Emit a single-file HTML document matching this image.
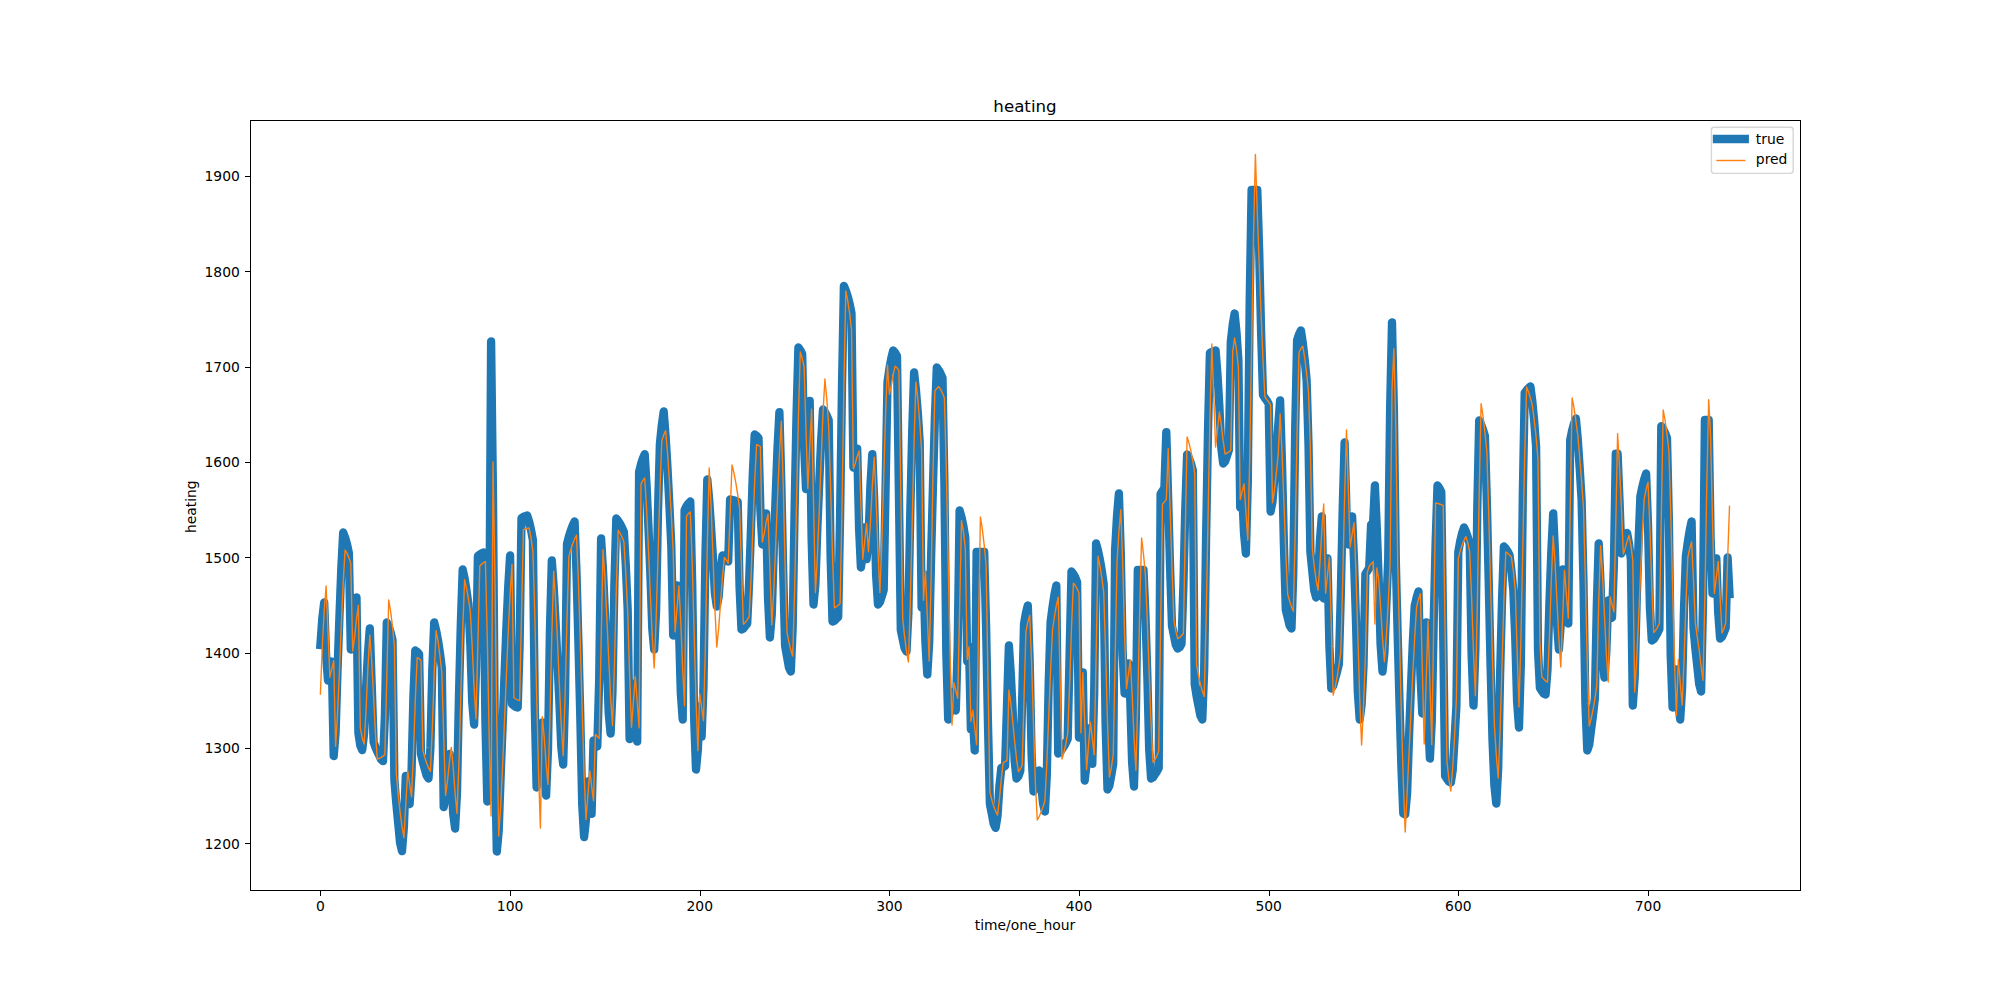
<!DOCTYPE html>
<html><head><meta charset="utf-8"><title>heating</title>
<style>html,body{margin:0;padding:0;background:#fff;overflow:hidden}svg{display:block}</style>
</head><body>
<svg width="2000" height="1000" viewBox="0 0 2000 1000">
<rect x="0" y="0" width="2000" height="1000" fill="#ffffff"/>
<defs><clipPath id="ax"><rect x="250" y="120" width="1550" height="770"/></clipPath></defs>
<g clip-path="url(#ax)" fill="none" stroke-linejoin="round" stroke-linecap="square">
<path d="M320.4 645.0 L322.3 618.6 L324.2 602.5 L326.1 655.1 L328.0 680.5 L329.9 674.3 L331.8 661.5 L333.7 756.1 L335.6 732.6 L337.5 671.0 L339.4 617.6 L341.3 568.6 L343.2 532.5 L345.1 537.4 L347.0 544.1 L348.9 553.0 L350.8 649.5 L352.7 639.2 L354.6 613.3 L356.5 597.5 L358.4 733.0 L360.3 745.7 L362.2 750.1 L364.1 733.3 L366.0 689.3 L367.9 654.3 L369.8 628.5 L371.7 684.4 L373.6 742.0 L375.4 747.2 L377.3 751.6 L379.2 755.4 L381.1 759.4 L383.0 761.1 L384.9 716.1 L386.8 622.5 L388.7 626.6 L390.6 632.3 L392.5 640.0 L394.4 780.0 L396.3 803.5 L398.2 823.0 L400.1 843.1 L402.0 851.1 L403.9 826.7 L405.8 775.9 L407.7 794.9 L409.6 804.1 L411.5 773.8 L413.4 697.1 L415.3 650.5 L417.2 651.9 L419.1 654.0 L421.0 754.0 L422.9 762.4 L424.8 769.1 L426.7 775.8 L428.5 778.5 L430.4 747.7 L432.3 669.9 L434.2 622.5 L436.1 630.3 L438.0 640.2 L439.9 652.6 L441.8 668.0 L443.7 807.1 L445.6 796.6 L447.5 770.1 L449.4 753.9 L451.3 776.6 L453.2 813.8 L455.1 828.5 L457.0 792.7 L458.9 699.0 L460.8 624.5 L462.7 569.5 L464.6 578.4 L466.5 590.3 L468.4 604.0 L470.3 643.8 L472.2 701.7 L474.1 724.5 L476.0 669.9 L477.9 556.0 L479.8 554.5 L481.7 553.3 L483.5 552.5 L485.4 720.6 L487.3 801.5 L489.2 652.0 L491.1 341.5 L493.0 496.4 L494.9 750.8 L496.8 851.5 L498.7 830.7 L500.6 777.3 L502.5 728.8 L504.4 678.2 L506.3 629.7 L508.2 587.4 L510.1 555.5 L512.0 704.0 L513.9 705.6 L515.8 707.0 L517.7 707.5 L519.6 646.0 L521.5 518.0 L523.4 516.9 L525.3 516.1 L527.2 515.5 L529.1 521.5 L531.0 529.7 L532.9 540.0 L534.8 708.1 L536.6 787.5 L538.5 774.7 L540.4 742.2 L542.3 722.5 L544.2 771.8 L546.1 795.5 L548.0 749.1 L549.9 631.9 L551.8 560.5 L553.7 586.9 L555.6 622.5 L557.5 662.5 L559.4 702.5 L561.3 747.3 L563.2 764.5 L565.1 693.6 L567.0 544.0 L568.9 536.5 L570.8 530.4 L572.7 525.4 L574.6 521.5 L576.5 572.5 L578.4 641.7 L580.3 716.9 L582.2 803.9 L584.1 837.1 L586.0 819.0 L587.9 781.5 L589.8 803.4 L591.6 813.9 L593.5 740.5 L595.4 744.5 L597.3 746.5 L599.2 678.9 L601.1 538.5 L603.0 570.0 L604.9 612.8 L606.8 659.2 L608.7 713.0 L610.6 733.5 L612.5 691.1 L614.4 583.8 L616.3 518.5 L618.2 520.9 L620.1 523.9 L622.0 527.6 L623.9 532.0 L625.8 565.3 L627.7 610.0 L629.6 739.1 L631.5 721.2 L633.4 683.9 L635.3 722.8 L637.2 741.5 L639.1 472.0 L641.0 464.1 L642.9 458.3 L644.7 454.1 L646.6 485.7 L648.5 528.5 L650.4 575.1 L652.3 629.0 L654.2 649.5 L656.1 610.4 L658.0 510.9 L659.9 444.0 L661.8 425.2 L663.7 411.5 L665.6 436.0 L667.5 468.0 L669.4 505.3 L671.3 546.0 L673.2 635.5 L675.1 619.2 L677.0 585.5 L678.9 626.2 L680.8 693.0 L682.7 719.5 L684.6 510.0 L686.5 506.2 L688.4 503.5 L690.3 501.5 L692.2 582.9 L694.1 716.6 L696.0 769.5 L697.9 749.0 L699.7 706.5 L701.6 736.5 L703.5 685.8 L705.4 557.6 L707.3 479.5 L709.2 500.0 L711.1 527.9 L713.0 558.1 L714.9 593.2 L716.8 606.5 L718.7 596.4 L720.6 571.0 L722.5 555.5 L724.4 557.3 L726.3 560.3 L728.2 561.5 L730.1 499.5 L732.0 499.9 L733.9 500.3 L735.8 500.9 L737.7 501.6 L739.6 588.0 L741.5 629.5 L743.4 628.5 L745.3 626.0 L747.2 623.6 L749.1 582.6 L751.0 528.3 L752.8 474.4 L754.7 434.5 L756.6 435.9 L758.5 438.0 L760.4 510.1 L762.3 544.5 L764.2 534.4 L766.1 513.5 L768.0 597.2 L769.9 637.5 L771.8 613.8 L773.7 551.7 L775.6 497.9 L777.5 448.5 L779.4 412.1 L781.3 481.8 L783.2 572.2 L785.1 646.0 L787.0 656.5 L788.9 667.4 L790.8 671.5 L792.7 626.7 L794.6 509.5 L796.5 416.3 L798.4 347.5 L800.3 350.1 L802.2 354.0 L804.1 445.6 L806.0 489.1 L807.8 460.4 L809.7 400.9 L811.6 538.3 L813.5 604.5 L815.4 584.0 L817.3 530.2 L819.2 483.8 L821.1 441.0 L823.0 409.5 L824.9 412.0 L826.8 415.5 L828.7 420.0 L830.6 556.5 L832.5 621.5 L834.4 620.8 L836.3 618.9 L838.2 617.0 L840.1 515.9 L842.0 386.2 L843.9 285.9 L845.8 290.5 L847.7 296.3 L849.6 303.7 L851.5 313.0 L853.4 467.5 L855.3 461.3 L857.2 448.5 L859.1 528.8 L860.9 567.5 L862.8 554.5 L864.7 527.5 L866.6 559.1 L868.5 538.4 L870.4 486.0 L872.3 454.1 L874.2 499.8 L876.1 574.8 L878.0 604.5 L879.9 602.2 L881.8 596.2 L883.7 590.0 L885.6 487.0 L887.5 382.0 L889.4 368.8 L891.3 358.3 L893.2 350.5 L895.1 352.7 L897.0 356.0 L898.9 492.1 L900.8 630.0 L902.7 639.1 L904.6 648.1 L906.5 651.5 L908.4 613.0 L910.3 512.0 L912.2 431.8 L914.1 372.5 L915.9 389.5 L917.8 412.6 L919.7 442.0 L921.6 607.5 L923.5 574.5 L925.4 642.0 L927.3 674.5 L929.2 642.3 L931.1 557.6 L933.0 484.4 L934.9 417.1 L936.8 367.5 L938.7 370.1 L940.6 373.6 L942.5 378.0 L944.4 482.9 L946.3 652.5 L948.2 719.5 L950.1 710.7 L952.0 692.5 L953.9 704.6 L955.8 710.5 L957.7 645.5 L959.6 510.5 L961.5 517.1 L963.4 526.1 L965.3 538.0 L967.2 661.5 L969.0 646.5 L970.9 729.5 L972.8 714.5 L974.7 750.5 L976.6 552.0 L978.5 552.0 L980.4 552.0 L982.3 552.0 L984.2 552.0 L986.1 627.2 L988.0 724.9 L989.9 804.0 L991.8 813.8 L993.7 824.0 L995.6 827.9 L997.5 816.2 L999.4 786.5 L1001.3 768.0 L1003.2 767.0 L1005.1 766.0 L1007.0 705.6 L1008.9 645.5 L1010.8 673.8 L1012.7 712.0 L1014.6 760.1 L1016.5 778.5 L1018.4 776.5 L1020.3 771.0 L1022.2 698.4 L1024.0 624.0 L1025.9 613.1 L1027.8 605.5 L1029.7 662.0 L1031.6 754.8 L1033.5 791.5 L1035.4 787.4 L1037.3 776.9 L1039.2 770.5 L1041.1 783.0 L1043.0 803.4 L1044.9 811.5 L1046.8 775.3 L1048.7 683.2 L1050.6 622.0 L1052.5 607.3 L1054.4 594.8 L1056.3 585.5 L1058.2 753.5 L1060.1 752.2 L1062.0 749.2 L1063.9 746.4 L1065.8 743.0 L1067.7 739.0 L1069.6 654.6 L1071.5 571.5 L1073.4 574.0 L1075.3 577.4 L1077.1 582.0 L1079.0 737.5 L1080.9 716.4 L1082.8 672.5 L1084.7 780.5 L1086.6 763.6 L1088.5 728.5 L1090.4 752.4 L1092.3 763.9 L1094.2 692.3 L1096.1 543.5 L1098.0 550.6 L1099.9 559.7 L1101.8 570.8 L1103.7 584.0 L1105.6 724.0 L1107.5 789.5 L1109.4 785.6 L1111.3 775.2 L1113.2 764.0 L1115.1 550.0 L1117.0 516.3 L1118.9 493.5 L1120.8 554.2 L1122.7 654.0 L1124.6 693.5 L1126.5 683.8 L1128.4 663.5 L1130.3 700.9 L1132.1 762.2 L1134.0 786.5 L1135.9 716.1 L1137.8 570.0 L1139.7 570.0 L1141.6 570.0 L1143.5 570.0 L1145.4 614.3 L1147.3 674.2 L1149.2 749.7 L1151.1 778.5 L1153.0 777.4 L1154.9 774.5 L1156.8 771.7 L1158.7 768.0 L1160.6 494.0 L1162.5 491.0 L1164.4 488.0 L1166.3 432.1 L1168.2 500.0 L1170.1 568.1 L1172.0 626.0 L1173.9 635.3 L1175.8 644.9 L1177.7 648.5 L1179.6 647.3 L1181.5 644.0 L1183.4 585.7 L1185.2 511.7 L1187.1 454.5 L1189.0 458.1 L1190.9 463.2 L1192.8 470.0 L1194.7 684.0 L1196.6 696.2 L1198.5 705.9 L1200.4 715.6 L1202.3 719.5 L1204.2 669.0 L1206.1 536.6 L1208.0 431.2 L1209.9 353.0 L1211.8 352.0 L1213.7 351.1 L1215.6 350.5 L1217.5 374.5 L1219.4 407.0 L1221.3 447.9 L1223.2 463.5 L1225.1 461.4 L1227.0 455.9 L1228.9 450.0 L1230.8 342.0 L1232.7 325.0 L1234.6 313.5 L1236.5 332.4 L1238.4 360.0 L1240.2 507.5 L1242.1 490.5 L1244.0 533.0 L1245.9 553.5 L1247.8 481.7 L1249.7 300.4 L1251.6 190.0 L1253.5 190.0 L1255.4 190.0 L1257.3 190.0 L1259.2 251.7 L1261.1 331.7 L1263.0 395.0 L1264.9 398.1 L1266.8 400.5 L1268.7 404.0 L1270.6 511.5 L1272.5 501.8 L1274.4 476.9 L1276.3 456.0 L1278.2 426.0 L1280.1 400.5 L1282.0 463.1 L1283.9 544.4 L1285.8 610.0 L1287.7 617.6 L1289.6 625.5 L1291.5 628.5 L1293.3 572.0 L1295.2 429.1 L1297.1 340.0 L1299.0 334.4 L1300.9 330.5 L1302.8 342.9 L1304.7 359.8 L1306.6 380.0 L1308.5 444.0 L1310.4 552.0 L1312.3 571.2 L1314.2 590.3 L1316.1 597.5 L1318.0 581.5 L1319.9 541.1 L1321.8 516.5 L1323.7 598.5 L1325.6 585.5 L1327.5 558.5 L1329.4 646.2 L1331.3 688.5 L1333.2 685.7 L1335.1 678.6 L1337.0 671.9 L1338.9 664.0 L1340.8 594.6 L1342.7 508.7 L1344.6 442.5 L1346.5 511.4 L1348.3 544.5 L1350.2 535.4 L1352.1 516.5 L1354.0 559.6 L1355.9 618.0 L1357.8 691.5 L1359.7 719.5 L1361.6 705.0 L1363.5 666.0 L1365.4 574.0 L1367.3 571.0 L1369.2 568.0 L1371.1 524.5 L1373.0 525.5 L1374.9 485.5 L1376.8 528.1 L1378.7 580.0 L1380.6 644.8 L1382.5 671.5 L1384.4 653.3 L1386.3 605.6 L1388.2 560.0 L1390.1 410.0 L1392.0 322.5 L1393.9 410.0 L1395.8 560.0 L1397.7 635.6 L1399.6 705.9 L1401.4 766.7 L1403.3 813.6 L1405.2 814.5 L1407.1 793.1 L1409.0 737.3 L1410.9 688.6 L1412.8 642.6 L1414.7 606.0 L1416.6 597.6 L1418.5 591.5 L1420.4 673.9 L1422.3 713.5 L1424.2 683.9 L1426.1 622.5 L1428.0 714.3 L1429.9 758.5 L1431.8 720.8 L1433.7 622.0 L1435.6 543.5 L1437.5 485.5 L1439.4 488.1 L1441.3 492.0 L1443.2 634.2 L1445.1 776.0 L1447.0 778.8 L1448.9 781.5 L1450.8 782.5 L1452.7 770.3 L1454.6 738.1 L1456.4 706.0 L1458.3 552.0 L1460.2 541.3 L1462.1 533.3 L1464.0 527.5 L1465.9 531.5 L1467.8 537.0 L1469.7 544.0 L1471.6 653.7 L1473.5 705.5 L1475.4 649.2 L1477.3 507.1 L1479.2 420.5 L1481.1 424.4 L1483.0 429.6 L1484.9 436.0 L1486.8 499.5 L1488.7 581.3 L1490.6 666.5 L1492.5 740.0 L1494.4 785.6 L1496.3 803.5 L1498.2 768.0 L1500.1 675.0 L1502.0 601.1 L1503.9 546.5 L1505.8 548.6 L1507.7 551.5 L1509.5 555.0 L1511.4 570.6 L1513.3 590.0 L1515.2 636.1 L1517.1 701.8 L1519.0 727.5 L1520.9 661.7 L1522.8 495.3 L1524.7 393.0 L1526.6 390.3 L1528.5 388.1 L1530.4 386.5 L1532.3 401.1 L1534.2 421.1 L1536.1 447.0 L1538.0 650.0 L1539.9 688.0 L1541.8 690.8 L1543.7 693.5 L1545.6 694.5 L1547.5 669.5 L1549.4 604.0 L1551.3 552.0 L1553.2 513.5 L1555.1 554.8 L1557.0 622.7 L1558.9 649.5 L1560.8 623.5 L1562.6 569.5 L1564.5 585.9 L1566.4 612.8 L1568.3 623.5 L1570.2 440.0 L1572.1 430.6 L1574.0 423.6 L1575.9 418.5 L1577.8 439.6 L1579.7 468.0 L1581.6 500.0 L1583.5 583.4 L1585.4 703.4 L1587.3 750.5 L1589.2 744.6 L1591.1 729.7 L1593.0 715.2 L1594.9 698.0 L1596.8 606.0 L1598.7 543.5 L1600.6 584.2 L1602.5 651.0 L1604.4 677.5 L1606.3 652.5 L1608.2 600.5 L1610.1 612.2 L1612.0 617.9 L1613.9 564.5 L1615.8 453.6 L1617.6 453.6 L1619.5 500.0 L1621.4 553.5 L1623.3 549.4 L1625.2 539.2 L1627.1 532.9 L1629.0 543.7 L1630.9 560.0 L1632.8 705.5 L1634.7 677.2 L1636.6 603.3 L1638.5 543.4 L1640.4 496.0 L1642.3 486.9 L1644.2 479.2 L1646.1 473.5 L1648.0 524.2 L1649.9 607.5 L1651.8 640.5 L1653.7 639.3 L1655.6 636.2 L1657.5 633.0 L1659.4 629.0 L1661.3 426.1 L1663.2 429.0 L1665.1 433.0 L1667.0 438.0 L1668.9 521.2 L1670.7 654.7 L1672.6 707.5 L1674.5 695.1 L1676.4 669.5 L1678.3 703.2 L1680.2 719.5 L1682.1 688.3 L1684.0 609.0 L1685.9 556.0 L1687.8 542.1 L1689.7 530.3 L1691.6 521.5 L1693.5 628.0 L1695.4 648.8 L1697.3 666.2 L1699.2 684.3 L1701.1 691.5 L1703.0 603.3 L1704.9 420.0 L1706.8 420.0 L1708.7 420.0 L1710.6 537.1 L1712.5 593.5 L1714.4 582.1 L1716.3 558.5 L1718.2 612.5 L1720.1 638.5 L1722.0 636.9 L1723.9 632.6 L1725.7 628.0 L1727.6 557.5 L1729.5 594.0" stroke="#1f77b4" stroke-width="8.33"/>
<path d="M320.4 694.0 L322.3 646.1 L324.2 611.2 L326.1 586.0 L328.0 631.6 L329.9 677.2 L331.8 668.9 L333.7 660.6 L335.6 746.4 L337.5 714.6 L339.4 671.6 L341.3 624.8 L343.2 581.7 L345.1 550.0 L347.0 553.2 L348.9 557.6 L350.8 563.4 L352.7 651.0 L354.6 637.1 L356.5 619.2 L358.4 605.3 L360.3 727.9 L362.2 737.7 L364.1 744.1 L366.0 711.0 L367.9 668.1 L369.8 635.0 L371.7 661.3 L373.6 697.0 L375.4 732.6 L377.3 759.0 L379.2 758.3 L381.1 757.3 L383.0 756.1 L384.9 754.6 L386.8 677.1 L388.7 600.0 L390.6 611.2 L392.5 626.6 L394.4 646.3 L396.3 772.9 L398.2 794.3 L400.1 812.1 L402.0 826.5 L403.9 837.7 L405.8 804.2 L407.7 770.8 L409.6 783.8 L411.5 796.7 L413.4 754.4 L415.3 699.8 L417.2 657.5 L419.1 658.7 L421.0 660.5 L422.9 750.4 L424.8 757.6 L426.7 763.3 L428.5 767.9 L430.4 771.4 L432.3 728.7 L434.2 673.4 L436.1 630.6 L438.0 641.2 L439.9 655.5 L441.8 672.4 L443.7 736.3 L445.6 795.3 L447.5 780.8 L449.4 762.0 L451.3 747.4 L453.2 767.5 L455.1 793.4 L457.0 813.4 L458.9 763.8 L460.8 696.6 L462.7 629.4 L464.6 579.8 L466.5 587.9 L468.4 598.8 L470.3 611.1 L472.2 646.7 L474.1 687.6 L476.0 718.9 L477.9 642.7 L479.8 566.0 L481.7 564.1 L483.5 562.6 L485.4 561.6 L487.3 638.8 L489.2 738.7 L491.1 816.0 L493.0 462.0 L494.9 575.6 L496.8 722.4 L498.7 836.0 L500.6 806.7 L502.5 767.9 L504.4 723.4 L506.3 677.0 L508.2 632.5 L510.1 593.7 L512.0 564.4 L513.9 697.7 L515.8 699.0 L517.7 700.0 L519.6 700.7 L521.5 615.3 L523.4 529.7 L525.3 529.0 L527.2 528.4 L529.1 528.0 L531.0 537.8 L532.9 551.3 L534.8 614.2 L536.6 693.3 L538.5 770.6 L540.4 828.0 L542.3 716.6 L544.2 737.2 L546.1 763.8 L548.0 784.4 L549.9 719.7 L551.8 636.0 L553.7 571.3 L555.6 601.1 L557.5 641.5 L559.4 685.5 L561.3 726.0 L563.2 755.8 L565.1 696.1 L567.0 618.8 L568.9 556.4 L570.8 549.6 L572.7 543.7 L574.6 538.9 L576.5 535.2 L578.4 581.2 L580.3 643.5 L582.2 711.4 L584.1 773.7 L586.0 819.7 L587.9 795.3 L589.8 770.9 L591.6 785.8 L593.5 800.8 L595.4 734.5 L597.3 736.5 L599.2 738.6 L601.1 644.1 L603.0 549.6 L604.9 578.0 L606.8 616.6 L608.7 658.5 L610.6 697.1 L612.5 725.5 L614.4 666.3 L616.3 589.6 L618.2 530.3 L620.1 533.2 L622.0 537.0 L623.9 541.8 L625.8 573.3 L627.7 612.1 L629.6 674.1 L631.5 727.3 L633.4 701.9 L635.3 676.5 L637.2 702.2 L639.1 727.9 L641.0 484.1 L642.9 480.4 L644.7 478.0 L646.6 508.7 L648.5 550.4 L650.4 595.6 L652.3 637.3 L654.2 668.0 L656.1 620.4 L658.0 556.2 L659.9 491.2 L661.8 441.0 L663.7 434.9 L665.6 430.6 L667.5 452.6 L669.4 481.3 L671.3 514.8 L673.2 551.4 L675.1 631.9 L677.0 608.9 L678.9 585.9 L680.8 622.4 L682.7 669.5 L684.6 705.9 L686.5 516.1 L688.4 513.6 L690.3 512.0 L692.2 562.7 L694.1 631.4 L696.0 700.0 L697.9 750.7 L699.7 693.9 L701.6 707.3 L703.5 720.8 L705.4 644.0 L707.3 544.8 L709.2 468.0 L711.1 506.0 L713.0 557.5 L714.9 609.0 L716.8 647.0 L718.7 628.0 L720.6 602.2 L722.5 576.4 L724.4 557.4 L726.3 560.2 L728.2 563.1 L730.1 514.0 L732.0 465.0 L733.9 472.7 L735.8 482.7 L737.7 494.6 L739.6 508.3 L741.5 568.2 L743.4 624.3 L745.3 622.4 L747.2 619.8 L749.1 616.7 L751.0 579.2 L752.8 529.8 L754.7 480.9 L756.6 444.7 L758.5 445.4 L760.4 446.5 L762.3 542.0 L764.2 533.5 L766.1 522.5 L768.0 514.1 L769.9 569.5 L771.8 624.9 L773.7 592.0 L775.6 547.4 L777.5 498.8 L779.4 454.2 L781.3 421.3 L783.2 484.2 L785.1 565.8 L787.0 632.4 L788.9 642.1 L790.8 650.1 L792.7 656.0 L794.6 591.4 L796.5 504.0 L798.4 416.6 L800.3 352.0 L802.2 358.1 L804.1 366.8 L806.0 429.0 L807.8 488.6 L809.7 448.9 L811.6 409.3 L813.5 500.9 L815.4 592.6 L817.3 558.1 L819.2 511.3 L821.1 460.3 L823.0 413.5 L824.9 379.0 L826.8 399.3 L828.7 426.2 L830.6 487.2 L832.5 555.6 L834.4 607.8 L836.3 606.7 L838.2 605.3 L840.1 603.5 L842.0 508.1 L843.9 385.7 L845.8 291.0 L847.7 300.3 L849.6 313.1 L851.5 329.7 L853.4 468.7 L855.3 463.3 L857.2 456.3 L859.1 450.9 L860.9 505.1 L862.8 559.2 L864.7 541.3 L866.6 523.5 L868.5 551.7 L870.4 523.0 L872.3 486.0 L874.2 457.3 L876.1 498.4 L878.0 551.5 L879.9 592.6 L881.8 544.2 L883.7 478.8 L885.6 413.4 L887.5 365.0 L889.4 394.2 L891.3 385.7 L893.2 374.6 L895.1 366.1 L897.0 367.9 L898.9 370.6 L900.8 492.3 L902.7 618.6 L904.6 636.7 L906.5 651.3 L908.4 662.0 L910.3 602.5 L912.2 522.0 L914.1 441.5 L915.9 382.0 L917.8 398.9 L919.7 421.8 L921.6 450.8 L923.5 600.2 L925.4 570.8 L927.3 615.9 L929.2 661.1 L931.1 579.4 L933.0 473.7 L934.9 391.0 L936.8 388.4 L938.7 386.6 L940.6 389.4 L942.5 393.3 L944.4 398.0 L946.3 469.0 L948.2 562.9 L950.1 656.0 L952.0 725.0 L953.9 682.7 L955.8 690.5 L957.7 698.4 L959.6 609.5 L961.5 520.6 L963.4 531.4 L965.3 547.4 L967.2 659.4 L969.0 646.9 L970.9 721.5 L972.8 710.1 L974.7 727.4 L976.6 744.6 L978.5 630.8 L980.4 517.0 L982.3 528.9 L984.2 545.2 L986.1 565.0 L988.0 680.3 L989.9 792.2 L991.8 799.8 L993.7 806.1 L995.6 811.1 L997.5 815.1 L999.4 799.3 L1001.3 778.9 L1003.2 762.6 L1005.1 761.7 L1007.0 760.6 L1008.9 690.0 L1010.8 703.2 L1012.7 721.1 L1014.6 740.6 L1016.5 758.5 L1018.4 771.7 L1020.3 769.0 L1022.2 765.0 L1024.0 699.3 L1025.9 631.8 L1027.8 622.1 L1029.7 615.3 L1031.6 662.7 L1033.5 725.0 L1035.4 783.7 L1037.3 820.0 L1039.2 816.6 L1041.1 812.1 L1043.0 806.8 L1044.9 800.8 L1046.8 763.8 L1048.7 717.0 L1050.6 669.4 L1052.5 630.0 L1054.4 617.0 L1056.3 605.6 L1058.2 597.1 L1060.1 678.1 L1062.0 759.0 L1063.9 752.6 L1065.8 744.0 L1067.7 733.7 L1069.6 685.4 L1071.5 627.5 L1073.4 583.1 L1075.3 585.5 L1077.1 588.8 L1079.0 593.3 L1080.9 732.9 L1082.8 672.8 L1084.7 721.2 L1086.6 769.6 L1088.5 745.8 L1090.4 722.1 L1092.3 738.4 L1094.2 754.8 L1096.1 655.6 L1098.0 556.3 L1099.9 565.4 L1101.8 577.5 L1103.7 591.8 L1105.6 651.6 L1107.5 722.5 L1109.4 777.0 L1111.3 768.0 L1113.2 755.1 L1115.1 660.7 L1117.0 562.0 L1118.9 531.8 L1120.8 509.8 L1122.7 564.1 L1124.6 634.3 L1126.5 688.6 L1128.4 674.3 L1130.3 660.1 L1132.1 693.6 L1134.0 736.8 L1135.9 770.3 L1137.8 699.7 L1139.7 608.5 L1141.6 538.0 L1143.5 554.1 L1145.4 575.3 L1147.3 620.8 L1149.2 673.9 L1151.1 724.5 L1153.0 762.3 L1154.9 759.6 L1156.8 755.9 L1158.7 751.2 L1160.6 627.3 L1162.5 504.2 L1164.4 501.9 L1166.3 499.6 L1168.2 448.6 L1170.1 507.9 L1172.0 568.3 L1173.9 620.2 L1175.8 631.1 L1177.7 638.7 L1179.6 637.5 L1181.5 635.7 L1183.4 633.5 L1185.2 534.9 L1187.1 437.0 L1189.0 443.1 L1190.9 450.9 L1192.8 460.8 L1194.7 473.3 L1196.6 664.6 L1198.5 675.6 L1200.4 684.3 L1202.3 691.1 L1204.2 696.5 L1206.1 621.6 L1208.0 520.2 L1209.9 418.9 L1211.8 344.0 L1213.7 395.5 L1215.6 447.0 L1217.5 429.5 L1219.4 412.0 L1221.3 424.8 L1223.2 441.2 L1225.1 454.0 L1227.0 453.1 L1228.9 451.9 L1230.8 450.2 L1232.7 351.7 L1234.6 338.0 L1236.5 349.7 L1238.4 367.2 L1240.2 499.6 L1242.1 491.7 L1244.0 483.9 L1245.9 512.0 L1247.8 540.1 L1249.7 458.1 L1251.6 347.2 L1253.5 236.4 L1255.4 154.4 L1257.3 212.8 L1259.2 263.4 L1261.1 314.4 L1263.0 360.6 L1264.9 396.8 L1266.8 399.6 L1268.7 401.8 L1270.6 404.9 L1272.5 502.8 L1274.4 490.2 L1276.3 473.4 L1278.2 454.3 L1280.1 414.0 L1282.0 451.6 L1283.9 502.2 L1285.8 553.7 L1287.7 594.2 L1289.6 601.1 L1291.5 606.9 L1293.3 611.2 L1295.2 533.1 L1297.1 431.9 L1299.0 352.3 L1300.9 348.7 L1302.8 346.2 L1304.7 357.8 L1306.6 373.4 L1308.5 392.1 L1310.4 450.5 L1312.3 548.3 L1314.2 566.0 L1316.1 580.0 L1318.0 590.3 L1319.9 564.1 L1321.8 530.2 L1323.7 504.0 L1325.6 593.2 L1327.5 575.1 L1329.4 557.0 L1331.3 626.0 L1333.2 695.0 L1335.1 687.4 L1337.0 677.6 L1338.9 665.8 L1340.8 652.4 L1342.7 581.4 L1344.6 495.8 L1346.5 430.0 L1348.3 488.4 L1350.2 546.7 L1352.1 534.7 L1354.0 522.7 L1355.9 569.9 L1357.8 633.9 L1359.7 697.8 L1361.6 745.0 L1363.5 706.7 L1365.4 656.3 L1367.3 572.5 L1369.2 566.1 L1371.1 563.7 L1373.0 562.0 L1374.9 624.0 L1376.8 568.0 L1378.7 579.2 L1380.6 607.0 L1382.5 638.1 L1384.4 661.8 L1386.3 637.2 L1388.2 603.8 L1390.1 562.5 L1392.0 390.0 L1393.9 348.7 L1395.8 427.0 L1397.7 561.6 L1399.6 640.8 L1401.4 716.1 L1403.3 781.8 L1405.2 832.0 L1407.1 793.3 L1409.0 754.1 L1410.9 713.3 L1412.8 673.5 L1414.7 637.2 L1416.6 606.9 L1418.5 599.2 L1420.4 593.7 L1422.3 668.8 L1424.2 744.0 L1426.1 682.4 L1428.0 620.7 L1429.9 682.7 L1431.8 744.7 L1433.7 623.8 L1435.6 503.0 L1437.5 503.4 L1439.4 504.0 L1441.3 504.6 L1443.2 505.5 L1445.1 631.3 L1447.0 762.0 L1448.9 779.1 L1450.8 791.0 L1452.7 767.7 L1454.6 736.0 L1456.4 697.6 L1458.3 558.7 L1460.2 551.1 L1462.1 545.1 L1464.0 540.3 L1465.9 536.6 L1467.8 542.9 L1469.7 551.6 L1471.6 597.5 L1473.5 653.0 L1475.4 695.7 L1477.3 607.0 L1479.2 492.3 L1481.1 403.6 L1483.0 415.8 L1484.9 432.2 L1486.8 451.0 L1488.7 512.2 L1490.6 585.9 L1492.5 660.8 L1494.4 725.4 L1496.3 755.3 L1498.2 778.0 L1500.1 730.0 L1502.0 665.0 L1503.9 600.0 L1505.8 552.0 L1507.7 553.2 L1509.5 554.9 L1511.4 557.0 L1513.3 570.8 L1515.2 589.0 L1517.1 650.5 L1519.0 707.0 L1520.9 639.0 L1522.8 547.0 L1524.7 455.0 L1526.6 387.0 L1528.5 391.7 L1530.4 398.0 L1532.3 405.1 L1534.2 419.8 L1536.1 437.0 L1538.0 459.5 L1539.9 642.6 L1541.8 676.8 L1543.7 679.1 L1545.6 680.9 L1547.5 682.1 L1549.4 637.7 L1551.3 580.4 L1553.2 536.0 L1555.1 563.8 L1557.0 601.5 L1558.9 639.2 L1560.8 667.0 L1562.6 618.7 L1564.5 570.3 L1566.4 594.3 L1568.3 618.3 L1570.2 508.1 L1572.1 398.0 L1574.0 407.9 L1575.9 421.0 L1577.8 435.3 L1579.7 457.3 L1581.6 481.4 L1583.5 508.7 L1585.4 581.2 L1587.3 663.2 L1589.2 726.0 L1591.1 719.0 L1593.0 710.0 L1594.9 698.8 L1596.8 685.4 L1598.7 601.7 L1600.6 545.7 L1602.5 574.7 L1604.4 613.9 L1606.3 653.0 L1608.2 682.0 L1610.1 596.9 L1612.0 604.4 L1613.9 611.8 L1615.8 522.7 L1617.6 433.6 L1619.5 466.1 L1621.4 507.5 L1623.3 554.0 L1625.2 548.4 L1627.1 541.1 L1629.0 535.5 L1630.9 545.4 L1632.8 560.2 L1634.7 692.1 L1636.6 661.7 L1638.5 621.0 L1640.4 576.2 L1642.3 533.4 L1644.2 499.0 L1646.1 489.3 L1648.0 482.2 L1649.9 527.9 L1651.8 586.9 L1653.7 632.6 L1655.6 630.4 L1657.5 627.4 L1659.4 623.5 L1661.3 516.1 L1663.2 410.0 L1665.1 420.5 L1667.0 434.6 L1668.9 451.0 L1670.7 512.2 L1672.6 587.7 L1674.5 661.0 L1676.4 715.6 L1678.3 659.7 L1680.2 682.4 L1682.1 705.1 L1684.0 661.4 L1685.9 604.6 L1687.8 557.5 L1689.7 548.5 L1691.6 542.0 L1693.5 580.6 L1695.4 623.3 L1697.3 637.2 L1699.2 650.0 L1701.1 666.5 L1703.0 680.2 L1704.9 595.0 L1706.8 484.8 L1708.7 399.6 L1710.6 436.5 L1712.5 519.9 L1714.4 593.5 L1716.3 577.5 L1718.2 561.4 L1720.1 597.2 L1722.0 633.0 L1723.9 629.0 L1725.7 622.9 L1727.6 559.7 L1729.5 506.4" stroke="#ff7f0e" stroke-width="1.39"/>
</g>
<g stroke="#000000" stroke-width="1" fill="none" shape-rendering="crispEdges">
<rect x="250.5" y="120.5" width="1550" height="770"/>
<line x1="320.5" y1="891" x2="320.5" y2="896"/>
<line x1="510.5" y1="891" x2="510.5" y2="896"/>
<line x1="700.5" y1="891" x2="700.5" y2="896"/>
<line x1="889.5" y1="891" x2="889.5" y2="896"/>
<line x1="1079.5" y1="891" x2="1079.5" y2="896"/>
<line x1="1269.5" y1="891" x2="1269.5" y2="896"/>
<line x1="1458.5" y1="891" x2="1458.5" y2="896"/>
<line x1="1648.5" y1="891" x2="1648.5" y2="896"/>
<line x1="245" y1="843.5" x2="250" y2="843.5"/>
<line x1="245" y1="748.5" x2="250" y2="748.5"/>
<line x1="245" y1="653.5" x2="250" y2="653.5"/>
<line x1="245" y1="557.5" x2="250" y2="557.5"/>
<line x1="245" y1="462.5" x2="250" y2="462.5"/>
<line x1="245" y1="367.5" x2="250" y2="367.5"/>
<line x1="245" y1="271.5" x2="250" y2="271.5"/>
<line x1="245" y1="176.5" x2="250" y2="176.5"/>
</g>
<g font-family="DejaVu Sans, Liberation Sans, sans-serif" fill="#000000" font-size="13.889px">
<text x="320.45" y="910.7" text-anchor="middle">0</text>
<text x="510.10" y="910.7" text-anchor="middle">100</text>
<text x="699.75" y="910.7" text-anchor="middle">200</text>
<text x="889.40" y="910.7" text-anchor="middle">300</text>
<text x="1079.05" y="910.7" text-anchor="middle">400</text>
<text x="1268.69" y="910.7" text-anchor="middle">500</text>
<text x="1458.34" y="910.7" text-anchor="middle">600</text>
<text x="1647.99" y="910.7" text-anchor="middle">700</text>
<text x="239.8" y="848.70" text-anchor="end">1200</text>
<text x="239.8" y="753.37" text-anchor="end">1300</text>
<text x="239.8" y="658.04" text-anchor="end">1400</text>
<text x="239.8" y="562.71" text-anchor="end">1500</text>
<text x="239.8" y="467.38" text-anchor="end">1600</text>
<text x="239.8" y="372.05" text-anchor="end">1700</text>
<text x="239.8" y="276.72" text-anchor="end">1800</text>
<text x="239.8" y="181.39" text-anchor="end">1900</text>
<text x="1025" y="930.3" text-anchor="middle">time/one_hour</text>
<text transform="translate(196.47 506.7) rotate(-90)" text-anchor="middle">heating</text>
<text x="1025" y="111.67" text-anchor="middle" font-size="16.667px">heating</text>
</g>
<rect x="1711.41" y="127.30" width="81.75" height="46.06" rx="2.78" ry="2.78" fill="#ffffff" fill-opacity="0.8" stroke="#cccccc" stroke-opacity="0.8" stroke-width="1.39"/>
<path d="M1716.97 139.00 L1744.75 139.00" stroke="#1f77b4" stroke-width="8.33" stroke-linecap="square" fill="none"/>
<path d="M1716.97 160.50 L1744.75 160.50" stroke="#ff7f0e" stroke-width="1.39" stroke-linecap="square" fill="none"/>
<g font-family="DejaVu Sans, Liberation Sans, sans-serif" fill="#000000" font-size="13.889px">
<text x="1755.86" y="143.5">true</text>
<text x="1755.86" y="164.4">pred</text>
</g>
</svg>
</body></html>
